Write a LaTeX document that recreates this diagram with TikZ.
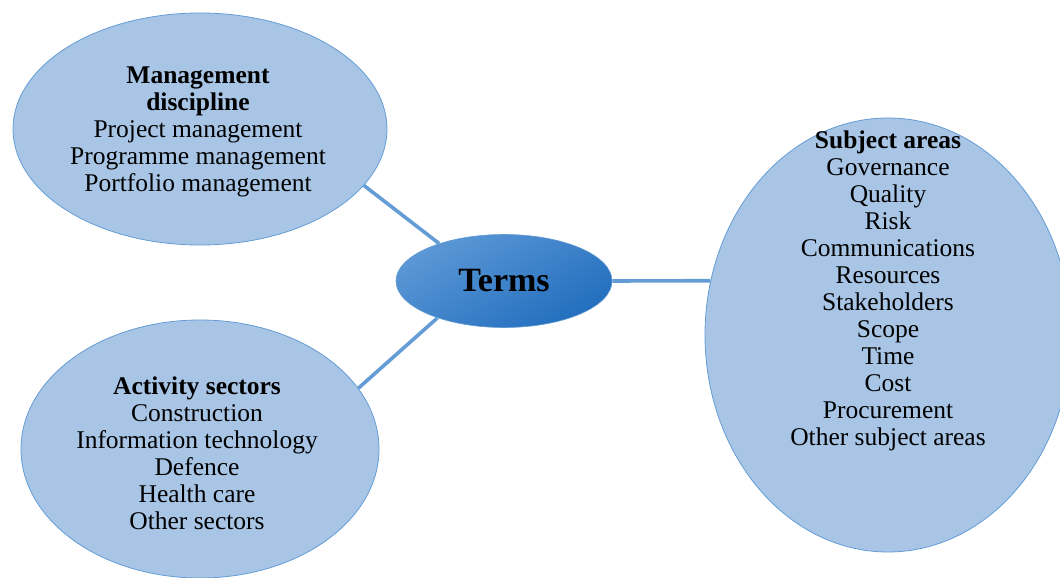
\documentclass[tikz,border=0pt]{standalone}
\usepackage{fontspec}
\setmainfont{Liberation Serif}
\usetikzlibrary{shapes.geometric}
\definecolor{L}{RGB}{168,197,230}
\definecolor{E}{RGB}{100,156,213}
\definecolor{T}{RGB}{92,152,214}
\definecolor{D}{RGB}{34,110,190}
\begin{document}
\begin{tikzpicture}[x=1pt,y=-1pt,
  blob/.style={ellipse, draw=E, fill=L, line width=0.8pt, inner sep=0pt},
  txt/.style={align=center, font=\fontsize{25.5}{27}\selectfont, inner sep=0pt},
  link/.style={E, line width=3.6pt}]
  \useasboundingbox (0,0) rectangle (1060,578);
  \node[blob, minimum width=374, minimum height=232] (mgmt) at (200,129) {};
  \node[blob, minimum width=358, minimum height=258] (act) at (200,449) {};
  \node[blob, minimum width=366, minimum height=434] (subj) at (888,335) {};
  \node[ellipse, draw=D!70, line width=0.6pt, top color=T, bottom color=D, shading angle=30,
        minimum width=216, minimum height=93, inner sep=0pt,
        font=\bfseries\fontsize{34}{36}\selectfont] (terms) at (504,281) {Terms};
  \draw[link] (mgmt.-19) -- (terms.150);
  \draw[link] (act.21) -- (terms.209);
  \draw[link] (terms.east) -- (subj.163.4);
  \node[txt] (mgmttxt) at (198,132) {\textbf{Management}\\\textbf{discipline}\\Project management\\Programme management\\Portfolio management};
  \node[txt] (acttxt) at (197,453) {\textbf{Activity sectors}\\Construction\\Information technology\\Defence\\Health care\\Other sectors};
  \node[txt] (subjtxt) at (888,291) {\textbf{Subject areas}\\Governance\\Quality\\Risk\\Communications\\Resources\\Stakeholders\\Scope\\Time\\Cost\\Procurement\\Other subject areas};
\end{tikzpicture}
\end{document}
